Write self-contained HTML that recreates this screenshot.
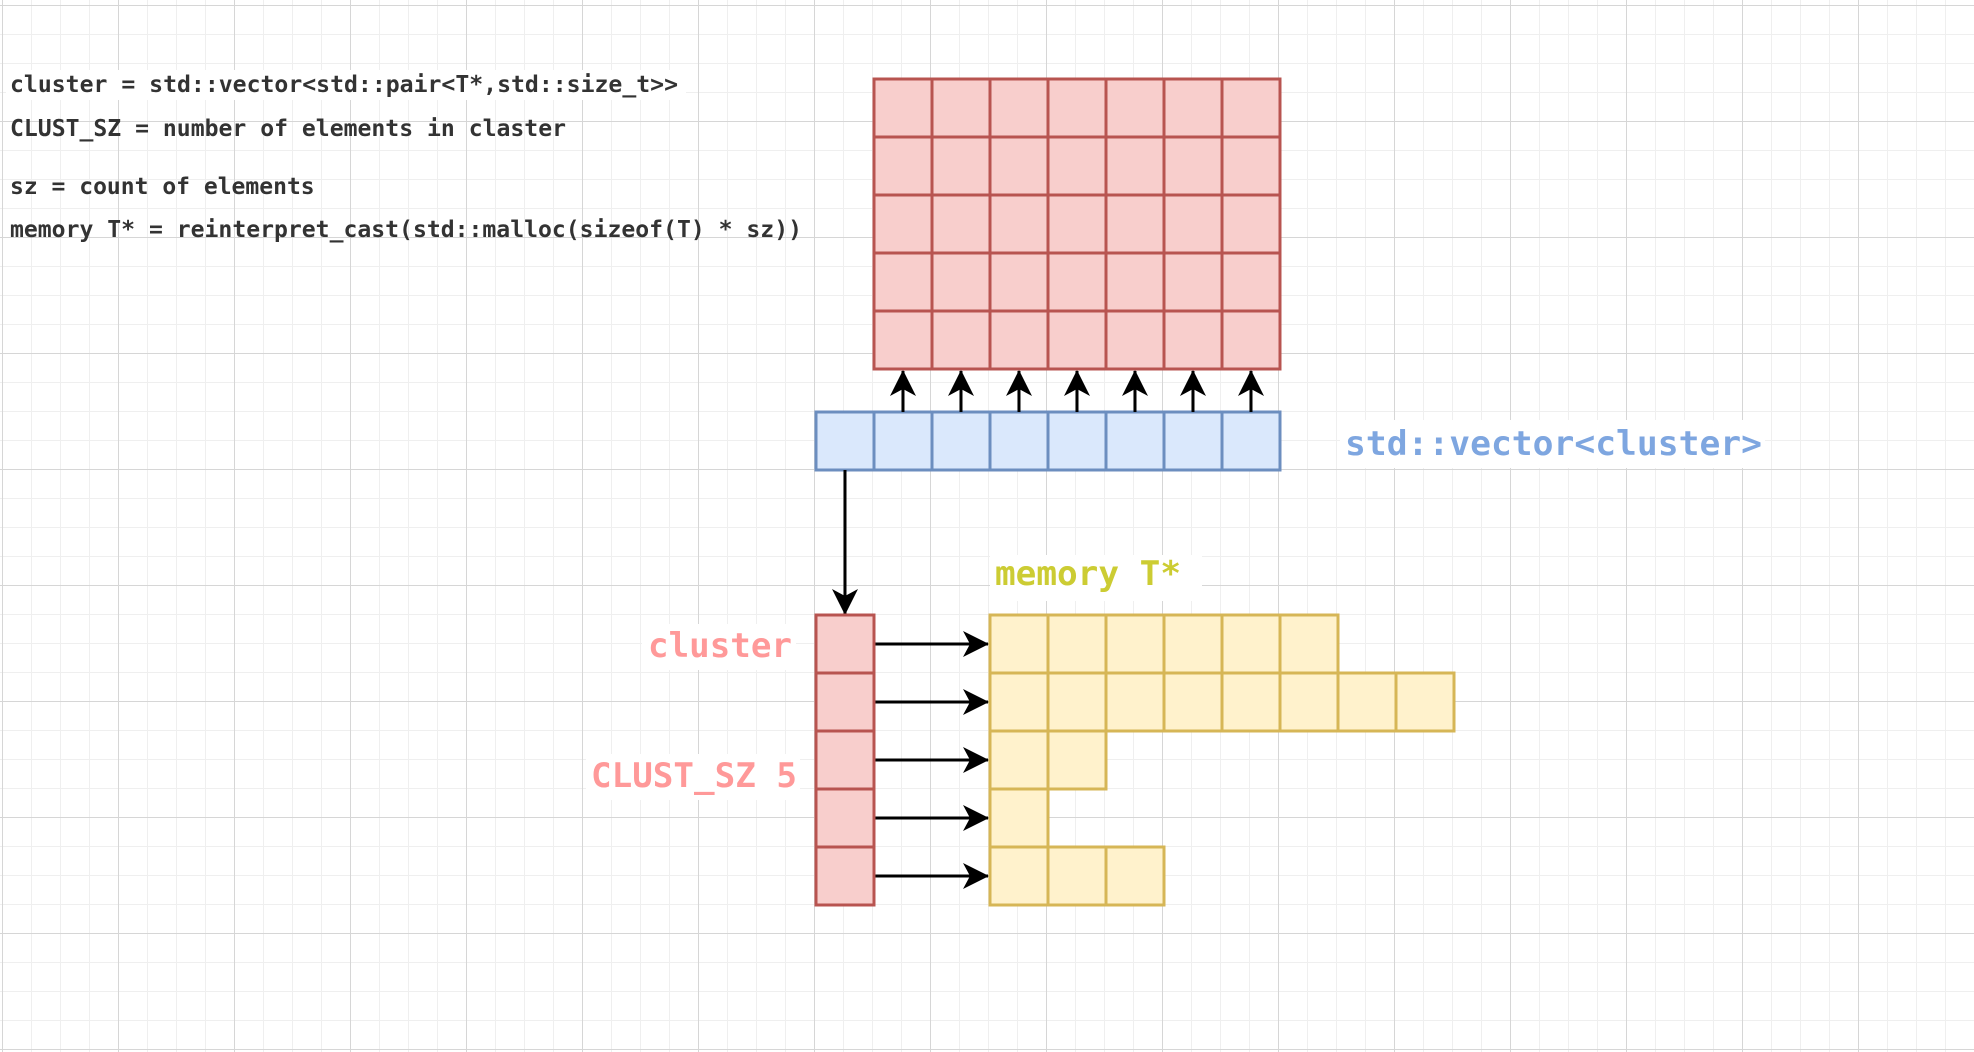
<!DOCTYPE html>
<html><head><meta charset="utf-8"><style>
html,body{margin:0;padding:0;}
body{width:1974px;height:1052px;overflow:hidden;background:#fff;
background-image:
linear-gradient(to right,#d6d6d6 1px,transparent 1px),
linear-gradient(to bottom,#d6d6d6 1px,transparent 1px),
linear-gradient(to right,#efefef 1px,transparent 1px),
linear-gradient(to bottom,#efefef 1px,transparent 1px);
background-size:116px 116px,116px 116px,29px 29px,29px 29px;
background-position:2px 5px,2px 5px,2px 5px,2px 5px;}
svg{position:absolute;left:0;top:0;}
text{font-family:"DejaVu Sans Mono","Liberation Mono",monospace;font-weight:bold;}
</style></head><body>
<svg width="1974" height="1052" xmlns="http://www.w3.org/2000/svg">
<defs>
<marker id="a" markerWidth="26" markerHeight="26" refX="25" refY="13" orient="auto" markerUnits="userSpaceOnUse" viewBox="0 0 26 26"><path d="M0,0 L26,13 L0,26 L7,13 Z" fill="#000"/></marker>
</defs>
<g font-size="23" fill="#333">
<rect x="6" y="70" width="680" height="30" fill="#fff"/>
<text x="10" y="92" textLength="668" lengthAdjust="spacingAndGlyphs">cluster = std::vector&lt;std::pair&lt;T*,std::size_t&gt;&gt;</text>
<text x="10" y="136" textLength="556" lengthAdjust="spacingAndGlyphs">CLUST_SZ = number of elements in claster</text>
<text x="10" y="194">sz = count of elements</text>
<text x="10" y="237" textLength="792" lengthAdjust="spacingAndGlyphs">memory T* = reinterpret_cast(std::malloc(sizeof(T) * sz))</text>
</g>
<rect x="874" y="79" width="406" height="290" fill="#f8cecc" stroke="#b85450" stroke-width="3"/>
<path d="M932,79V369M990,79V369M1048,79V369M1106,79V369M1164,79V369M1222,79V369M874,137H1280M874,195H1280M874,253H1280M874,311H1280" stroke="#b85450" stroke-width="3"/>
<rect x="816" y="412" width="464" height="58" fill="#dae8fc" stroke="#6c8ebf" stroke-width="3"/>
<path d="M874,412V470M932,412V470M990,412V470M1048,412V470M1106,412V470M1164,412V470M1222,412V470" stroke="#6c8ebf" stroke-width="3"/>
<g stroke="#000" stroke-width="3" fill="none">
<path d="M903,412V371" marker-end="url(#a)"/>
<path d="M961,412V371" marker-end="url(#a)"/>
<path d="M1019,412V371" marker-end="url(#a)"/>
<path d="M1077,412V371" marker-end="url(#a)"/>
<path d="M1135,412V371" marker-end="url(#a)"/>
<path d="M1193,412V371" marker-end="url(#a)"/>
<path d="M1251,412V371" marker-end="url(#a)"/>
<path d="M845,470V614" marker-end="url(#a)"/>
<path d="M874,644H988" marker-end="url(#a)"/>
<path d="M874,702H988" marker-end="url(#a)"/>
<path d="M874,760H988" marker-end="url(#a)"/>
<path d="M874,818H988" marker-end="url(#a)"/>
<path d="M874,876H988" marker-end="url(#a)"/>
</g>
<rect x="816" y="615" width="58" height="290" fill="#f8cecc" stroke="#b85450" stroke-width="3"/>
<path d="M816,673H874M816,731H874M816,789H874M816,847H874" stroke="#b85450" stroke-width="3"/>
<g fill="#fff2cc" stroke="#d6b656" stroke-width="3">
<rect x="990" y="615" width="58" height="58"/><rect x="1048" y="615" width="58" height="58"/><rect x="1106" y="615" width="58" height="58"/><rect x="1164" y="615" width="58" height="58"/><rect x="1222" y="615" width="58" height="58"/><rect x="1280" y="615" width="58" height="58"/>
<rect x="990" y="673" width="58" height="58"/><rect x="1048" y="673" width="58" height="58"/><rect x="1106" y="673" width="58" height="58"/><rect x="1164" y="673" width="58" height="58"/><rect x="1222" y="673" width="58" height="58"/><rect x="1280" y="673" width="58" height="58"/><rect x="1338" y="673" width="58" height="58"/><rect x="1396" y="673" width="58" height="58"/>
<rect x="990" y="731" width="58" height="58"/><rect x="1048" y="731" width="58" height="58"/>
<rect x="990" y="789" width="58" height="58"/>
<rect x="990" y="847" width="58" height="58"/><rect x="1048" y="847" width="58" height="58"/><rect x="1106" y="847" width="58" height="58"/>
</g>
<rect x="1340" y="420" width="425" height="48" fill="#fff"/>
<text x="1345" y="455" font-size="34" fill="#7ea6e0" textLength="417" lengthAdjust="spacingAndGlyphs">std::vector&lt;cluster&gt;</text>
<rect x="990" y="555" width="212" height="46" fill="#fff"/>
<text x="995" y="585" font-size="34" fill="#cccc33" textLength="186" lengthAdjust="spacingAndGlyphs">memory T*</text>
<rect x="642" y="624" width="154" height="46" fill="#fff"/>
<text x="648" y="657" font-size="34" fill="#ff9999" textLength="144" lengthAdjust="spacingAndGlyphs">cluster</text>
<rect x="586" y="754" width="214" height="46" fill="#fff"/>
<text x="591" y="787" font-size="34" fill="#ff9999" textLength="206" lengthAdjust="spacingAndGlyphs">CLUST_SZ 5</text>
</svg>
</body></html>
